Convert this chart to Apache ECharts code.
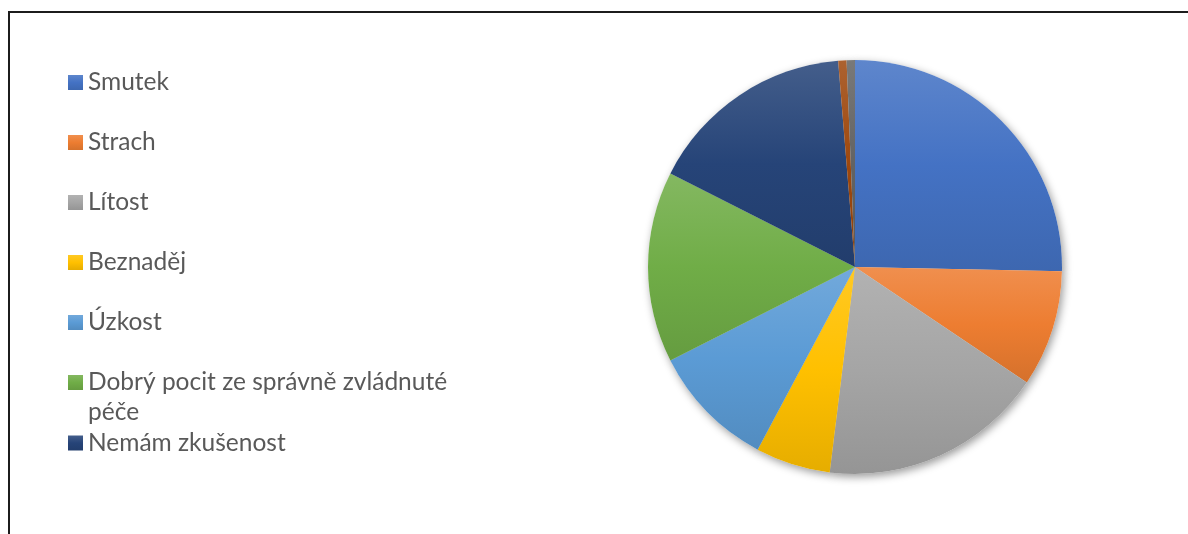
<!DOCTYPE html>
<html>
<head>
<meta charset="utf-8">
<script src="https://cdn.jsdelivr.net/npm/echarts@6/dist/echarts.min.js"></script>
<style>
  html, body { margin: 0; padding: 0; background: #ffffff; }
  #chart { width: 1188px; height: 534px; }
</style>
</head>
<body>
<div id="chart"></div>
<script>
// Responses: emotions experienced while caring
const categories = [
  'Smutek',
  'Strach',
  'Lítost',
  'Beznaděj',
  'Úzkost',
  'Dobrý pocit ze správně zvládnuté péče',
  'Nemám zkušenost',
  'Jiné',
  'Bez odpovědi'
];
const values = [39, 14, 27, 9, 15, 23, 25, 1, 1];
const baseColors = ['#4472C4', '#ED7D31', '#A5A5A5', '#FFC000', '#5B9BD5', '#70AD47', '#264478', '#9E480E', '#636363'];
// Only the first seven categories are listed in the legend
const legendNames = categories.slice(0, 7);

function shade(hex, amt) {
  const n = parseInt(hex.slice(1), 16);
  let r = (n >> 16) & 255, g = (n >> 8) & 255, b = n & 255;
  const f = c => amt >= 0 ? Math.round(c + (255 - c) * amt) : Math.round(c * (1 + amt));
  return 'rgb(' + f(r) + ',' + f(g) + ',' + f(b) + ')';
}
function gradient(hex) {
  return new echarts.graphic.LinearGradient(0, 0, 0, 1, [
    { offset: 0, color: shade(hex, 0.14) },
    { offset: 0.5, color: hex },
    { offset: 1, color: shade(hex, -0.1) }
  ]);
}

const chart = echarts.init(document.getElementById('chart'), null, { renderer: 'canvas' });

// One legend block per entry so each row sits at its own height;
// the long entry wraps, with its first line level with the marker.
const legendCenters = [82.5, 142.5, 202.5, 262.5, 322.5, 382.5, 443];
const legends = legendNames.map((name, i) => {
  const wrapped = name.indexOf(' péče') > 0;
  return {
    data: [name],
    orient: 'vertical',
    left: 68,
    top: wrapped ? legendCenters[i] - 45 : legendCenters[i] - 15,
    padding: 0,
    icon: 'rect',
    itemWidth: 15,
    itemHeight: 15,
    itemGap: 0,
    selectedMode: false,
    formatter: n => n.indexOf(' péče') > 0 ? '\n' + n.replace(' péče', '\npéče') : n,
    textStyle: {
      fontFamily: 'Lato',
      fontSize: 24.5,
      color: '#595959',
      lineHeight: 30
    }
  };
});

const pieData = categories.map((name, i) => ({
  name: name,
  value: values[i],
  itemStyle: { color: gradient(baseColors[i]) }
}));

const shadowData = categories.map((name, i) => ({
  name: name + ' ',
  value: values[i]
}));

chart.setOption({
  animation: false,
  backgroundColor: '#ffffff',
  legend: legends,
  graphic: [{
    type: 'rect',
    shape: { x: 9, y: 12, width: 1400, height: 800 },
    style: { fill: 'none', stroke: '#1c1c1c', lineWidth: 2 },
    silent: true,
    z: 100
  }],
  series: [
    {
      // soft drop shadow beneath the pie
      type: 'pie',
      center: [855, 267],
      radius: 207,
      startAngle: 90,
      clockwise: true,
      silent: true,
      z: 1,
      label: { show: false },
      labelLine: { show: false },
      itemStyle: {
        color: '#ffffff',
        shadowBlur: 9,
        shadowOffsetX: 2,
        shadowOffsetY: 3,
        shadowColor: 'rgba(0,0,0,0.4)'
      },
      data: shadowData
    },
    {
      type: 'pie',
      center: [855, 267],
      radius: 207,
      startAngle: 90,
      clockwise: true,
      z: 2,
      label: { show: false },
      labelLine: { show: false },
      emphasis: { disabled: true },
      itemStyle: { borderWidth: 0 },
      data: pieData
    }
  ]
});
</script>
</body>
</html>
